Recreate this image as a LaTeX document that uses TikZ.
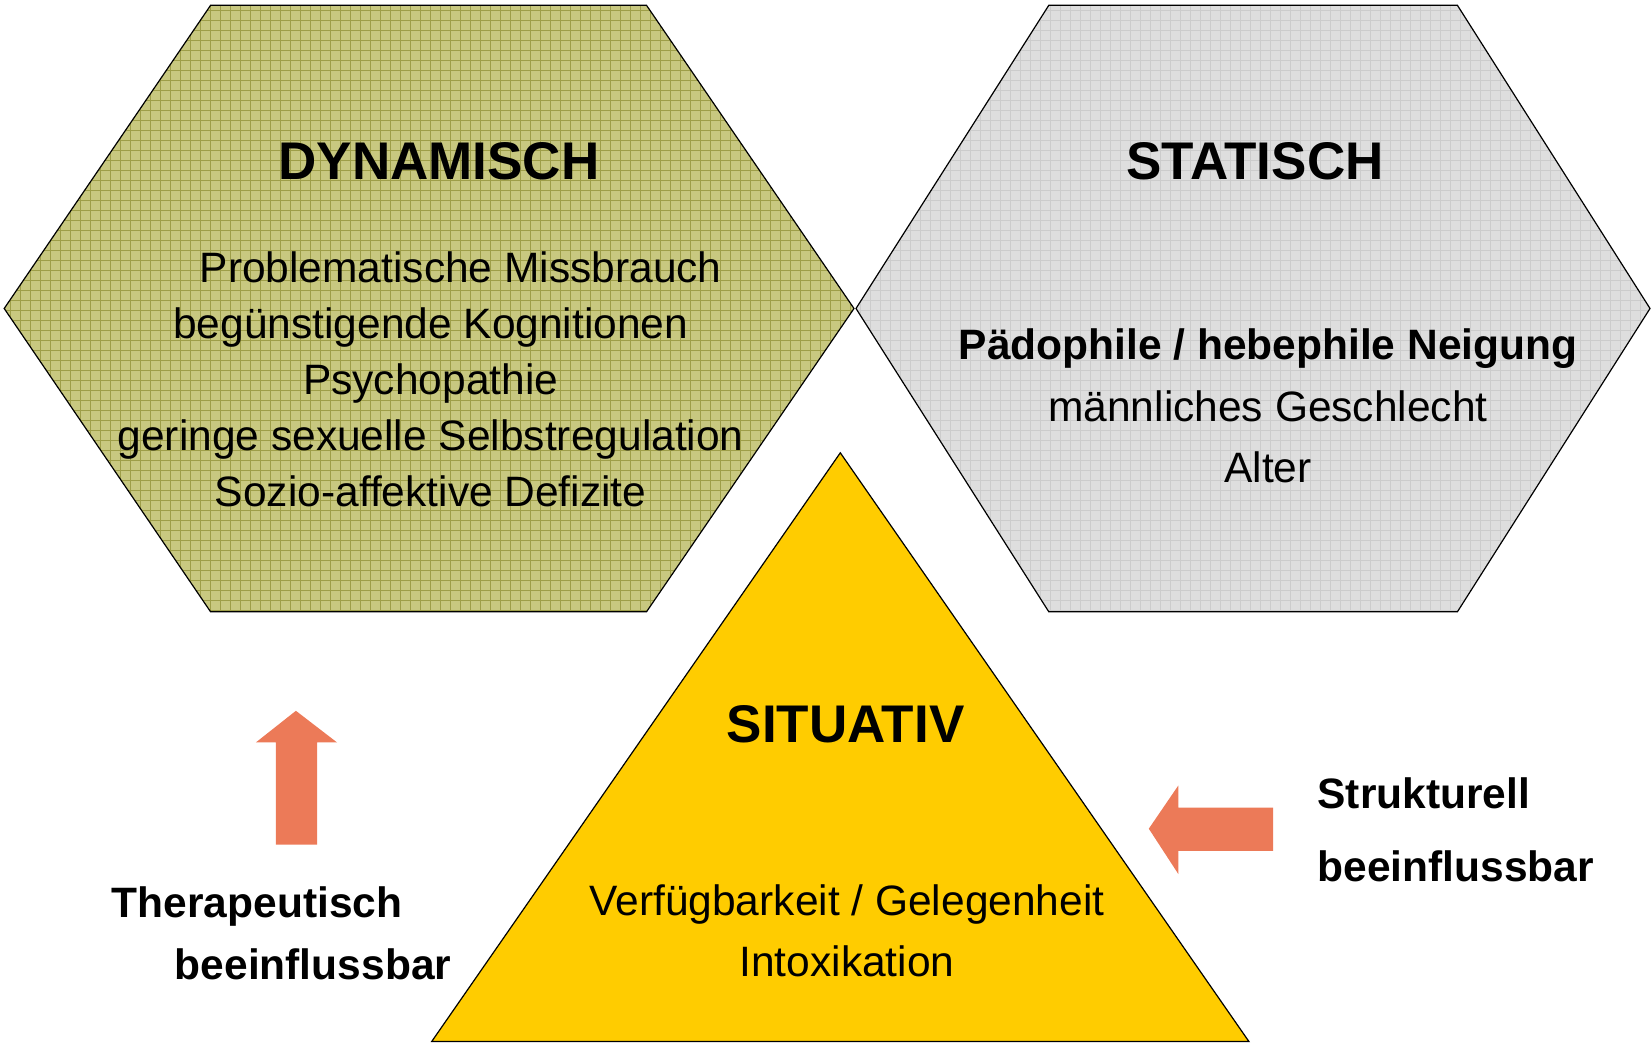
\documentclass[tikz,border=0pt]{standalone}
\usepackage{fontspec}
\setmainfont{Liberation Sans}
\usepackage{tikz}
\usetikzlibrary{positioning}

\definecolor{olivebg}{RGB}{200,200,128}
\definecolor{olivegrid}{RGB}{158,158,72}
\definecolor{greybg}{RGB}{222,222,222}
\definecolor{greygrid}{RGB}{204,204,204}
\definecolor{situgold}{RGB}{255,204,0}
\definecolor{arrowred}{RGB}{236,122,88}

\begin{document}
\begin{tikzpicture}[x=1pt,y=-1pt,
    shapeline/.style={draw=black,line width=1.2pt,line join=miter},
    title/.style={font=\fontsize{53}{60}\bfseries\selectfont},
    bodytext/.style={align=center,font=\fontsize{42.5}{56}\selectfont},
    blockarrow/.style={fill=arrowred,draw=none}]
\useasboundingbox (0,0) rectangle (1651,1043);

% dynamic factors, olive hexagon with grid texture
\begin{scope}
\clip (210.6,5.3) -- (646.5,5.3) -- (854,308.5) -- (646.5,611.8) -- (210.6,611.8) -- (4.2,308.5) -- cycle;
\fill[olivebg] (0,0) rectangle (860,620);
\draw[olivegrid,line width=0.9pt] (0,0) grid[step=10pt] (860,620);
\end{scope}
\draw[shapeline] (210.6,5.3) -- (646.5,5.3) -- (854,308.5) -- (646.5,611.8) -- (210.6,611.8) -- (4.2,308.5) -- cycle;

% static factors, grey hexagon
\begin{scope}
\clip (1048.8,5.3) -- (1457.4,5.3) -- (1650,308.5) -- (1457.4,611.8) -- (1048.8,611.8) -- (856,308.5) -- cycle;
\fill[greybg] (850,0) rectangle (1651,620);
\draw[greygrid,line width=0.9pt] (850,0) grid[step=10pt] (1651,620);
\end{scope}
\draw[shapeline] (1048.8,5.3) -- (1457.4,5.3) -- (1650,308.5) -- (1457.4,611.8) -- (1048.8,611.8) -- (856,308.5) -- cycle;

% situational factors
\draw[shapeline,fill=situgold] (840.3,452.8) -- (1248.9,1041.5) -- (431.7,1041.5) -- cycle;

% block arrows
\fill[blockarrow] (295.9,710.8) -- (337,742.4) -- (317,742.4) -- (317,844.5)
    -- (275.9,844.5) -- (275.9,742.4) -- (255.9,742.4) -- cycle;
\fill[blockarrow] (1148.8,828.7) -- (1178.3,785.5) -- (1178.3,807.6) -- (1273,807.6)
    -- (1273,850.8) -- (1178.3,850.8) -- (1178.3,874) -- cycle;

% texts
\node[title] (dyn) at (439,161) {DYNAMISCH};
\node[bodytext] (dynlist) at (430.7,379) {\hspace*{60pt}Problematische Missbrauch\\
    begünstigende Kognitionen\\Psychopathie\\geringe sexuelle Selbstregulation\\
    Sozio-affektive Defizite};

\node[title] (stat) at (1255,161) {STATISCH};
\node[bodytext,font=\fontsize{42.5}{61.5}\selectfont] (statlist) at (1268,406) {\textbf{Pädophile / hebephile Neigung}\\
    männliches Geschlecht\\Alter};

\node[title] (situ) at (845.6,724.5) {SITUATIV};
\node[bodytext,font=\fontsize{42.5}{61}\selectfont] (situlist) at (847,931) {Verfügbarkeit / Gelegenheit\\Intoxikation};

\node[bodytext,font=\fontsize{42.5}{62}\bfseries\selectfont] (thera) at (257,933) {Therapeutisch\\\hspace*{112pt}beeinflussbar};
\node[bodytext,align=left,anchor=west,font=\fontsize{42.5}{72.6}\bfseries\selectfont] (struk) at (1314,830) {Strukturell\\beeinflussbar};
\end{tikzpicture}
\end{document}
